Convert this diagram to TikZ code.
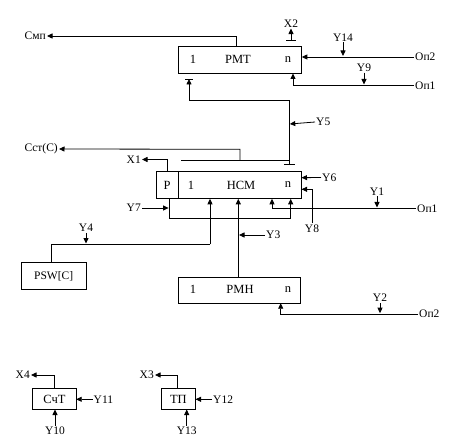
\documentclass[tikz,border=0pt]{standalone}
\usepackage{fontspec}
\setmainfont{Liberation Serif}
\usetikzlibrary{arrows.meta,calc}
\begin{document}
\begin{tikzpicture}[x=1pt,y=-1pt,
  every node/.style={font=\fontsize{11.5}{13}\selectfont},
  box/.style={draw,line width=0.8pt,inner sep=0pt,anchor=north west},
  btxt/.style={font=\fontsize{12.5}{14}\selectfont},
  lbl/.style={inner sep=1pt},
  ln/.style={line width=0.8pt},
  arr/.style={line width=0.8pt,-{Triangle[length=5.5pt,width=5pt]}}]
\useasboundingbox (0,0) rectangle (456,444);

% ---------- boxes ----------
\node[box,minimum width=123pt,minimum height=27pt] (pmt) at (178,46) {};
\node[btxt] (pmt1) at (193,59.5) {1};
\node[btxt] (pmtt) at (238,59.5) {РМТ};
\node[btxt] (pmtn) at (288,59.5) {n};

\node[box,minimum width=145pt,minimum height=27.3pt] (nsm) at (156,171) {};
\draw[ln] (178.3,171) -- (178.3,198.3);
\node[btxt] (nsmp) at (167,185) {P};
\node[btxt] (nsm1) at (191,185) {1};
\node[btxt] (nsmt) at (241,185) {НСМ};
\node[btxt] (nsmn) at (288,185) {n};

\node[box,minimum width=121.7pt,minimum height=26pt] (pmh) at (178.3,276.7) {};
\node[btxt] (pmh1) at (193,289.5) {1};
\node[btxt] (pmht) at (240,289.5) {РМН};
\node[btxt] (pmhn) at (288,289.5) {n};

\node[box,minimum width=65pt,minimum height=27pt] (psw) at (20.7,262.3) {};
\node at (psw.center) {PSW[C]};

\node[box,minimum width=43.4pt,minimum height=20.7pt] (sct) at (32.3,388.3) {};
\node[btxt] at (sct.center) {СчТ};

\node[box,minimum width=34pt,minimum height=20.7pt] (tp) at (161,388.3) {};
\node[btxt] at (tp.center) {ТП};

% ---------- labels ----------
\node[lbl,anchor=east] (smp) at (47,36) {Смп};
\node[lbl] (x2) at (291,23.5) {X2};
\node[lbl,anchor=west] (op2t) at (414,57) {Оп2};
\node[lbl] (y14) at (343,37.5) {Y14};
\node[lbl,anchor=west] (op1t) at (414,85.5) {Оп1};
\node[lbl] (y9) at (364,67.5) {Y9};
\node[lbl,anchor=west] (y5) at (315,122) {Y5};
\node[lbl,anchor=east] (sst) at (59,149) {Сст(С)};
\node[lbl,anchor=east] (x1) at (142,159.5) {X1};
\node[lbl,anchor=west] (y6) at (321,177.5) {Y6};
\node[lbl] (y1) at (377,191.5) {Y1};
\node[lbl,anchor=west] (op1m) at (416,208.3) {Оп1};
\node[lbl,anchor=east] (y7) at (142,208) {Y7};
\node[lbl] (y8) at (312,228.5) {Y8};
\node[lbl] (y4) at (86,228) {Y4};
\node[lbl,anchor=west] (y3) at (265,235) {Y3};
\node[lbl] (y2) at (380,298) {Y2};
\node[lbl,anchor=west] (op2b) at (418,314) {Оп2};
\node[lbl,anchor=east] (x4) at (31,375) {X4};
\node[lbl,anchor=west] (y11) at (92.5,399.3) {Y11};
\node[lbl] (y10) at (55,431) {Y10};
\node[lbl,anchor=east] (x3) at (155,375) {X3};
\node[lbl,anchor=west] (y12) at (212,399.3) {Y12};
\node[lbl] (y13) at (186.7,431) {Y13};

% ---------- coordinates ----------
\coordinate (pmttop) at (236,46);
\coordinate (bus1) at (181,160.7);
\coordinate (bus2) at (289,160.7);
\coordinate (busbar) at (289,164);
\coordinate (fbk) at (189,100);
\coordinate (fbtip) at (189,79);

% ---------- PMT ----------
\draw[arr] (pmttop) -- (236,36) -- (smp.east);
\draw[ln] (286,40.7) -- (296,40.7);
\draw[arr] (291,40.7) -- (x2.south);
\draw[arr] (op2t.west) -- (op2t.west -| pmt.east);
\draw[arr] (y14.south) -- (343,56);
\draw[arr] (op1t.west) -- (293,85.5) -- (293,73.5);
\draw[arr] (y9.south) -- (364,84.5);

% feedback to PMT "1"
\draw[ln] (busbar) -- (289,100) -- (fbk);
\draw[arr] (fbk) -- (fbtip);
\draw[ln] (185,79) -- (193,79);
\draw[ln] (284,164) -- (295,164);
\draw[arr] (y5.west) -- (289.8,124);

% bus above NSM
\draw[ln] (bus1) -- (bus2);
\draw[arr] (240,160.7) -- (240,149.3) -- (sst.east);

% ---------- NSM ----------
\draw[arr] (167,171) -- (167,159.5) -- (x1.east);
\draw[arr] (y6.west) -- (301.5,177.7);
\draw[arr] (y8.north) -- (312,189.3) -- (301.5,189.3);
\draw[arr] (op1m.west) -- (272,208.3) -- (272,198.8);
\draw[arr] (y1.south) -- (377,207.5);
\draw[ln] (169,198.3) -- (169,218.3) -- (290.7,218.3);
\draw[arr] (290.7,218.3) -- (290.7,198.8);
\draw[arr] (y7.east) -- (168.6,208);

% PSW
\draw[ln] (51,262.3) -- (51,244.3) -- (210,244.3);
\draw[arr] (210,244.3) -- (210,198.8);
\draw[arr] (y4.south) -- (86,243.5);

% PMH
\draw[arr] (238.3,276.7) -- (238.3,198.8);
\draw[arr] (y3.west) -- (239,235);
\draw[arr] (op2b.west) -- (280.7,314) -- (280.7,303.2);
\draw[arr] (y2.south) -- (380,313.2);

% ---------- CchT ----------
\draw[arr] (54.3,388.3) -- (54.3,375) -- (x4.east);
\draw[arr] (y11.west) -- (76.2,399.3);
\draw[arr] (y10.north) -- (55,409.5);

% ---------- TP ----------
\draw[arr] (177.7,388.3) -- (177.7,375) -- (x3.east);
\draw[arr] (y12.west) -- (195.5,399.3);
\draw[arr] (y13.north) -- (186.7,409.5);
\end{tikzpicture}
\end{document}
